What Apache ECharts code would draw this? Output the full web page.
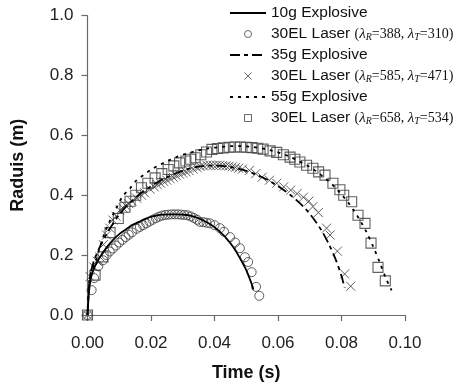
<!DOCTYPE html>
<html>
<head>
<meta charset="utf-8">
<script src="https://cdn.jsdelivr.net/npm/echarts@6/dist/echarts.min.js"></script>
<style>html,body{margin:0;padding:0;background:#fff}#c{width:469px;height:391px}</style>
</head>
<body>
<div id="c"></div>
<script>
// ---- data ----
const seriesNames = ['10g Explosive', '30EL Laser (λR=388, λT=310)', '35g Explosive', '30EL Laser (λR=585, λT=471)', '55g Explosive', '30EL Laser (λR=658, λT=534)'];
const lambdaR = [388, 585, 658];
const lambdaT = [310, 471, 534];
const xTicks = [0, 0.02, 0.04, 0.06, 0.08, 0.10];
const yTicks = [0, 0.2, 0.4, 0.6, 0.8, 1.0];

const exp10 = [[0,0],[0.0005,0.08],[0.001,0.12],[0.002,0.155],[0.004,0.195],[0.006,0.225],[0.008,0.25],[0.010,0.27],[0.012,0.285],[0.014,0.3],[0.016,0.31],[0.018,0.32],[0.020,0.328],[0.022,0.333],[0.024,0.335],[0.026,0.336],[0.028,0.336],[0.030,0.335],[0.032,0.333],[0.034,0.327],[0.036,0.318],[0.038,0.307],[0.040,0.293],[0.042,0.275],[0.044,0.253],[0.046,0.225],[0.048,0.19],[0.050,0.15],[0.052,0.095],[0.0522,0.085]];
const laser10 = [[0,0],[0.0013,0.083],[0.0021,0.123],[0.0034,0.163],[0.0049,0.183],[0.006,0.2],[0.007,0.212],[0.008,0.222],[0.009,0.232],[0.010,0.242],[0.011,0.251],[0.012,0.26],[0.013,0.268],[0.014,0.276],[0.0155,0.288],[0.0165,0.294],[0.0175,0.3],[0.0185,0.306],[0.0195,0.312],[0.0205,0.318],[0.0215,0.323],[0.0225,0.328],[0.0235,0.332],[0.0245,0.334],[0.0255,0.335],[0.0265,0.336],[0.0275,0.336],[0.0285,0.336],[0.0295,0.335],[0.0305,0.334],[0.0315,0.333],[0.0325,0.329],[0.0335,0.324],[0.0345,0.318],[0.0354,0.311],[0.0365,0.31],[0.0375,0.308],[0.0386,0.306],[0.040,0.3],[0.0417,0.29],[0.043,0.278],[0.0449,0.26],[0.0465,0.242],[0.048,0.223],[0.0496,0.193],[0.0506,0.177],[0.0517,0.143],[0.0531,0.094],[0.0541,0.064]];
const exp35 = [[0,0],[0.0005,0.1],[0.001,0.14],[0.002,0.18],[0.004,0.23],[0.006,0.27],[0.008,0.305],[0.010,0.335],[0.012,0.36],[0.014,0.38],[0.016,0.4],[0.018,0.415],[0.020,0.43],[0.022,0.443],[0.024,0.455],[0.026,0.465],[0.028,0.474],[0.030,0.482],[0.032,0.489],[0.034,0.494],[0.036,0.497],[0.038,0.499],[0.040,0.499],[0.042,0.498],[0.044,0.496],[0.046,0.492],[0.048,0.487],[0.050,0.481],[0.052,0.474],[0.054,0.465],[0.056,0.455],[0.058,0.443],[0.060,0.43],[0.062,0.416],[0.064,0.4],[0.066,0.382],[0.068,0.362],[0.070,0.338],[0.072,0.31],[0.074,0.277],[0.076,0.237],[0.078,0.19],[0.080,0.13],[0.081,0.09]];
const laser35 = [[0,0],[0.0008,0.128],[0.002,0.16],[0.003,0.18],[0.0039,0.194],[0.005,0.235],[0.006,0.267],[0.007,0.29],[0.008,0.317],[0.009,0.33],[0.0102,0.35],[0.0112,0.357],[0.012,0.365],[0.013,0.372],[0.014,0.38],[0.0155,0.39],[0.017,0.4],[0.018,0.408],[0.0197,0.42],[0.021,0.428],[0.022,0.435],[0.023,0.44],[0.024,0.446],[0.025,0.45],[0.026,0.455],[0.027,0.46],[0.028,0.465],[0.029,0.47],[0.030,0.474],[0.031,0.478],[0.032,0.482],[0.0333,0.487],[0.0345,0.492],[0.0355,0.496],[0.0365,0.498],[0.0376,0.5],[0.0386,0.5],[0.0396,0.5],[0.0406,0.5],[0.0416,0.5],[0.0426,0.499],[0.0436,0.498],[0.0446,0.497],[0.0456,0.495],[0.0466,0.493],[0.0476,0.49],[0.0488,0.487],[0.051,0.483],[0.053,0.472],[0.055,0.46],[0.0573,0.45],[0.0596,0.44],[0.0618,0.428],[0.064,0.417],[0.066,0.405],[0.068,0.393],[0.0697,0.38],[0.071,0.362],[0.0727,0.342],[0.0753,0.29],[0.0764,0.267],[0.0787,0.213],[0.081,0.137],[0.0829,0.096]];
const exp55 = [[0,0],[0.0005,0.11],[0.001,0.14],[0.0024,0.175],[0.004,0.23],[0.006,0.29],[0.009,0.355],[0.011,0.395],[0.0134,0.423],[0.0155,0.45],[0.018,0.47],[0.020,0.485],[0.022,0.497],[0.024,0.508],[0.026,0.518],[0.028,0.527],[0.030,0.535],[0.032,0.541],[0.034,0.547],[0.036,0.552],[0.038,0.556],[0.040,0.559],[0.042,0.561],[0.044,0.563],[0.046,0.564],[0.048,0.564],[0.050,0.563],[0.052,0.561],[0.054,0.558],[0.056,0.554],[0.058,0.549],[0.060,0.543],[0.062,0.536],[0.064,0.527],[0.066,0.517],[0.068,0.506],[0.070,0.494],[0.072,0.48],[0.074,0.464],[0.076,0.446],[0.078,0.426],[0.080,0.403],[0.082,0.377],[0.084,0.347],[0.086,0.313],[0.088,0.274],[0.090,0.228],[0.092,0.177],[0.094,0.122],[0.0958,0.082]];
const laser55 = [[0,0],[0.0024,0.133],[0.0049,0.194],[0.0071,0.275],[0.0097,0.322],[0.0118,0.36],[0.0134,0.38],[0.0152,0.4],[0.017,0.425],[0.019,0.44],[0.0213,0.458],[0.0234,0.472],[0.0254,0.486],[0.0272,0.498],[0.029,0.508],[0.031,0.514],[0.0325,0.52],[0.0339,0.525],[0.0357,0.535],[0.0375,0.544],[0.0392,0.553],[0.041,0.556],[0.0428,0.558],[0.0446,0.56],[0.0464,0.561],[0.0482,0.561],[0.050,0.56],[0.0518,0.559],[0.0536,0.557],[0.0553,0.554],[0.0575,0.548],[0.0596,0.543],[0.0617,0.535],[0.0638,0.527],[0.0653,0.52],[0.0669,0.511],[0.069,0.5],[0.071,0.49],[0.0728,0.478],[0.0748,0.467],[0.0773,0.44],[0.0795,0.418],[0.0807,0.4],[0.0832,0.378],[0.0852,0.333],[0.0874,0.306],[0.0893,0.24],[0.0915,0.159],[0.0938,0.114]];

// ---- chart ----
const chart = echarts.init(document.getElementById('c'), null, {renderer: 'canvas'});
const crossPath = 'path://M0,0L10,10M10,0L0,10';
const squarePath = 'path://M0,0L10,0L10,10L0,10Z';
const markColor = '#3a3a3a';

function legendLabel(name) {
  const i = seriesNames.indexOf(name);
  if (i % 2 === 0) return '{n|' + name + '}';
  const k = (i - 1) / 2;
  return '{n|30EL Laser }{v|(}{l|λ}{s|R}{v|=' + lambdaR[k] + ', }{l|λ}{s|T}{v|=' + lambdaT[k] + ')}';
}

const legendData = seriesNames.map((n, i) => i % 2 === 0
  ? {name: n, itemStyle: {opacity: 0}}
  : {name: n, itemStyle: {color: 'rgba(0,0,0,0)', borderColor: '#444', borderWidth: 1}});

chart.setOption({
  animation: false,
  backgroundColor: '#fff',
  grid: {left: 87.5, right: 64, top: 15.5, bottom: 76, containLabel: false},
  legend: {
    orient: 'vertical',
    left: 229,
    top: 5,
    itemWidth: 36,
    itemHeight: 7,
    itemGap: 5,
    padding: 0,
    data: legendData,
    formatter: legendLabel,
    textStyle: {
      lineHeight: 16,
      rich: {
        n: {fontFamily: 'Liberation Sans, Arial', fontSize: 15.5, color: '#111', lineHeight: 16},
        v: {fontFamily: 'Liberation Serif, Times New Roman', fontSize: 14, color: '#111', lineHeight: 16},
        l: {fontFamily: 'Liberation Serif, Times New Roman', fontStyle: 'italic', fontSize: 15, color: '#111', lineHeight: 16},
        s: {fontFamily: 'Liberation Serif, Times New Roman', fontStyle: 'italic', fontSize: 10, color: '#111', lineHeight: 10, verticalAlign: 'bottom', padding: [5, 0, 0, 0]}
      }
    }
  },
  xAxis: {
    type: 'value', min: 0, max: 0.1, interval: 0.02,
    name: 'Time (s)', nameLocation: 'middle', nameGap: 49,
    nameTextStyle: {fontFamily: 'Liberation Sans, Arial', fontWeight: 'bold', fontSize: 18, color: '#111'},
    axisLine: {lineStyle: {color: '#6a6a6a', width: 1.2}},
    axisTick: {show: true, length: 6, inside: false, lineStyle: {color: '#6a6a6a', width: 1.2}},
    axisLabel: {fontFamily: 'Liberation Sans, Arial', fontSize: 17, color: '#222', margin: 20,
      formatter: v => { const t = xTicks.find(x => Math.abs(x - v) < 1e-9); return (t !== undefined ? t : v).toFixed(2); }},
    splitLine: {show: false}
  },
  yAxis: {
    type: 'value', min: 0, max: 1, interval: 0.2,
    name: 'Raduis (m)', nameLocation: 'middle', nameGap: 60, nameRotate: 90,
    nameTextStyle: {fontFamily: 'Liberation Sans, Arial', fontWeight: 'bold', fontSize: 18, color: '#111'},
    axisLine: {show: true, lineStyle: {color: '#6a6a6a', width: 1.2}},
    axisTick: {show: true, length: 6, inside: false, lineStyle: {color: '#6a6a6a', width: 1.2}},
    axisLabel: {fontFamily: 'Liberation Sans, Arial', fontSize: 17, color: '#222', margin: 14,
      formatter: v => { const t = yTicks.find(y => Math.abs(y - v) < 1e-9); return (t !== undefined ? t : v).toFixed(1); }},
    splitLine: {show: false}
  },
  series: [
    {name: seriesNames[0], type: 'line', data: exp10, symbol: 'none', smooth: 0.3, z: 3,
      lineStyle: {color: '#000', width: 1.8, type: 'solid'}, itemStyle: {color: '#000'}},
    {name: seriesNames[1], type: 'scatter', data: laser10, symbol: 'circle', symbolSize: 9, z: 2,
      itemStyle: {color: 'rgba(0,0,0,0)', borderColor: markColor, borderWidth: 1}},
    {name: seriesNames[2], type: 'line', data: exp35, symbol: 'none', smooth: 0.3, z: 3,
      lineStyle: {color: '#000', width: 1.8, type: [10, 4, 4, 4]}, itemStyle: {color: '#000'}},
    {name: seriesNames[3], type: 'scatter', data: laser35, symbol: crossPath, symbolSize: 9, z: 2,
      itemStyle: {color: 'rgba(0,0,0,0)', borderColor: markColor, borderWidth: 1}},
    {name: seriesNames[4], type: 'line', data: exp55, symbol: 'none', smooth: 0.3, z: 3,
      lineStyle: {color: '#000', width: 1.8, type: [3, 5]}, itemStyle: {color: '#000'}},
    {name: seriesNames[5], type: 'scatter', data: laser55, symbol: squarePath, symbolSize: 10, z: 2,
      itemStyle: {color: 'rgba(0,0,0,0)', borderColor: markColor, borderWidth: 1.1}}
  ]
});
</script>
</body>
</html>
